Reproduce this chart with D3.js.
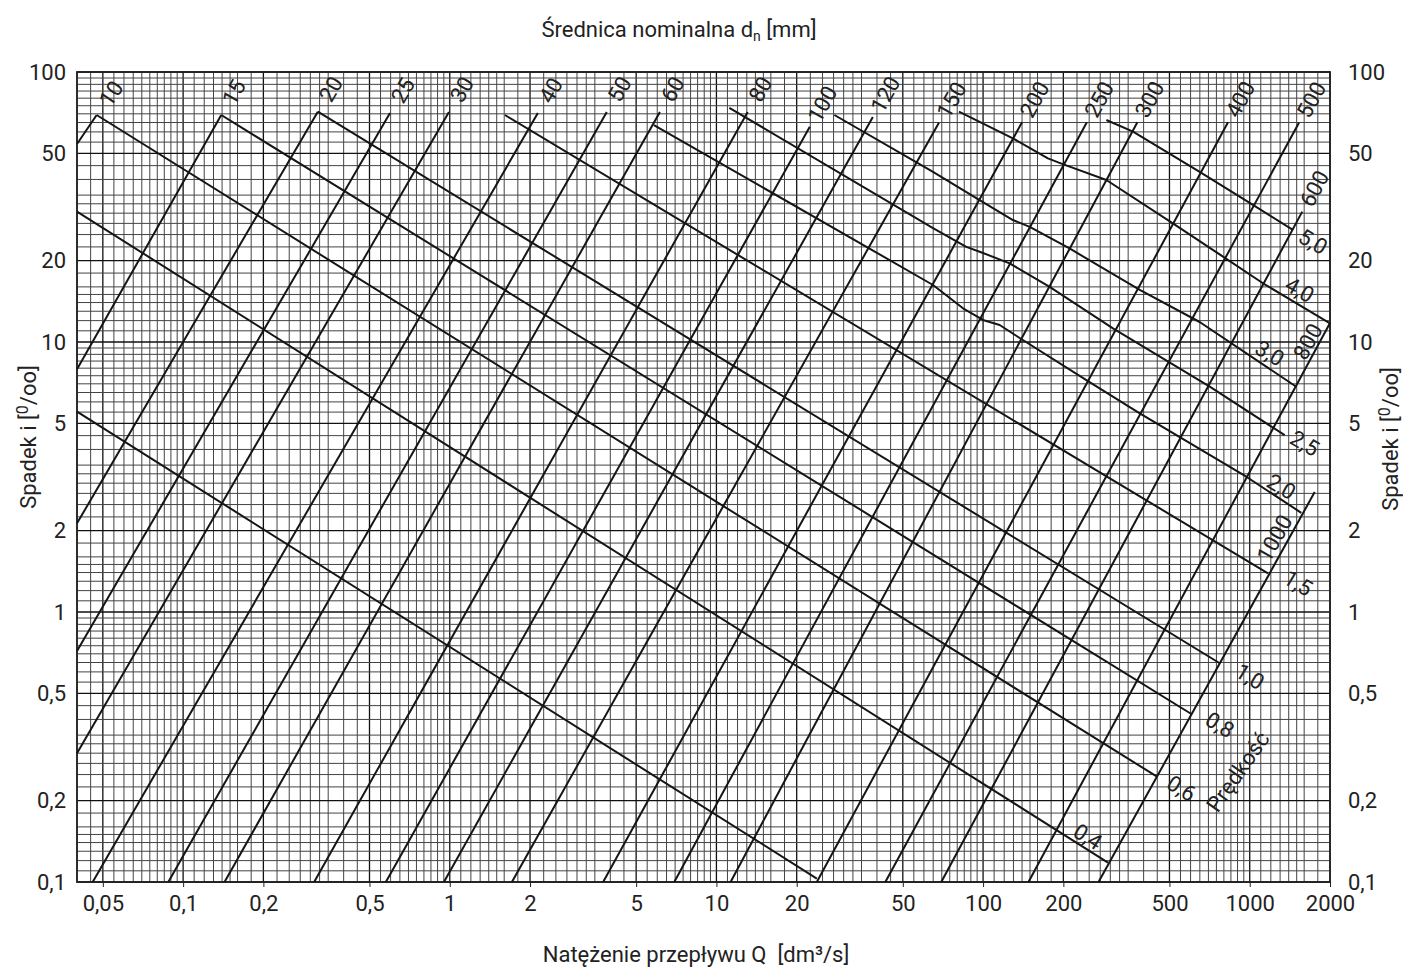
<!DOCTYPE html>
<html>
<head>
<meta charset="utf-8">
<script src="https://cdn.jsdelivr.net/npm/d3@7"></script>
<style>
  body { margin: 0; background: #fff; }
  text { font-family: Roboto, "Liberation Sans", sans-serif; fill: #222; }
</style>
</head>
<body>
<script>
// tick labels of both log axes
var xTicks = [0.05, 0.1, 0.2, 0.5, 1, 2, 5, 10, 20, 50, 100, 200, 500, 1000, 2000];
var yTicks = [0.1, 0.2, 0.5, 1, 2, 5, 10, 20, 50, 100];
// mantissas of the log paper lines inside one decade
var gridSteps = [1, 1.1, 1.2, 1.3, 1.4, 1.5, 1.6, 1.8, 2, 2.25, 2.5, 2.75, 3, 3.25, 3.5,
                 4, 4.5, 5, 5.5, 6, 6.5, 7, 7.5, 8, 8.5, 9, 9.5];

// nominal diameters [mm], each line from its top point to its lower end  [Q dm3/s, i promille]
var diameters = [10, 15, 20, 25, 30, 40, 50, 60, 80, 100, 120, 150, 200, 250, 300, 400, 500, 600, 800, 1000];
var dTop = [[0.0474, 69.3], [0.139, 69.3], [0.320, 71.3], [0.597, 70.5], [0.993, 71.1], [2.14, 70.5],
            [3.88, 71.1], [6.14, 71.1], [13.1, 71.1], [22.4, 62.7], [38.6, 68.1], [68.3, 64.9],
            [140, 65.1], [245, 65.1], [379, 65.1], [829, 65.1], [1530, 64.9], [1574, 30.4],
            [2000, 11.76], [1752, 2.78]];
var dBottom = [[0.04, 54.1], [0.04, 7.92], [0.04, 2.13], [0.04, 0.717], [0.04, 0.30], [0.0458, 0.1],
               [0.088, 0.1], [0.143, 0.1], [0.310, 0.1], [0.576, 0.1], [0.951, 0.1], [1.71, 0.1],
               [3.76, 0.1], [6.95, 0.1], [11.3, 0.1], [23.8, 0.1], [43.0, 0.1], [69.7, 0.1],
               [148, 0.1], [271, 0.1]];
// labels that sit beside the line instead of above its top
var dLabelAt = {800: [1653, 10.03], 1000: [1240, 1.875]};

// velocity lines [m/s]
var velocities = ["", "0,4", "0,6", "0,8", "1,0", "1,5", "2,0", "2,5", "3,0", "4,0", "5,0"];
var vLines = [
  [[0.04, 5.52], [23.8, 0.103]],
  [[0.04, 30.4], [294, 0.118]],
  [[0.0474, 69.3], [449, 0.2455]],
  [[0.139, 69.3], [604, 0.419]],
  [[0.320, 71.3], [772, 0.646]],
  [[1.61, 69.3], [1171, 1.39]],
  [[5.83, 63.6], [64.9, 16.26], [84.1, 13.33], [99.9, 12.07], [115.4, 11.56], [141, 10.17],
   [244, 7.23], [387, 5.44], [971, 3.17], [1561, 2.33]],
  [[11.18, 73.7], [64.9, 26.4], [86.5, 22.5], [97.1, 21.6], [125.8, 19.56], [177.7, 16.0],
   [307, 11.23], [708, 6.83], [1352, 4.52]],
  [[27.7, 69.3], [64.9, 42.7], [95.7, 33.8], [129.4, 28.3], [149.6, 26.7], [211, 22.2],
   [387, 15.6], [649, 11.86], [1495, 6.83]],
  [[81.2, 71.3], [129.4, 56.8], [175, 47.9], [199, 45.6], [290, 39.8], [515, 27.5],
   [794, 20.7], [1121, 16.5], [2000, 11.73]],
  [[290, 66.4], [365, 60.1], [649, 42.7], [1028, 32.2], [1452, 26.0]]
];
var vLabelAt = [null, [247, 0.147], [554, 0.222], [772, 0.3815], [1000, 0.576], [1517, 1.277],
                [1313, 2.91], [1607, 4.21], [1188, 9.08], [1539, 15.58], [1726, 23.5]];
var speedWordAt = [904, 0.256];

// set the dimensions and margins of the graph
var margin = {top: 72, right: 73, bottom: 88, left: 77},
    width = 1403 - margin.left - margin.right,
    height = 970 - margin.top - margin.bottom;

var x = d3.scaleLog().domain([0.04, 2000]).range([0, width]);
var y = d3.scaleLog().domain([0.1, 100]).range([height, 0]);

var root = d3.select("body").append("svg")
    .attr("width", 1403)
    .attr("height", 970);
var svg = root.append("g")
    .attr("transform", "translate(" + margin.left + "," + margin.top + ")");

var comma = function(d) { return String(d).replace(".", ","); };

function gridValues(lo, hi) {
  var out = [];
  for (var e = -3; e <= 4; e++) {
    gridSteps.forEach(function(s) {
      var v = +(s * Math.pow(10, e)).toPrecision(6);
      if (v >= lo && v <= hi) out.push(v);
    });
  }
  return out;
}
function isMajor(v) {
  var m = +(v / Math.pow(10, Math.floor(Math.log10(v) + 1e-9))).toPrecision(4);
  return m === 1 || m === 2 || m === 5;
}

// log paper grid
svg.selectAll(".vgrid")
    .data(gridValues(0.04, 2000))
  .enter().append("line")
    .attr("x1", function(d) { return x(d); })
    .attr("x2", function(d) { return x(d); })
    .attr("y1", 0).attr("y2", height)
    .attr("stroke", function(d) { return isMajor(d) ? "#111" : "#444"; })
    .attr("stroke-width", function(d) { return isMajor(d) ? 1.3 : 1; });
svg.selectAll(".hgrid")
    .data(gridValues(0.1, 100))
  .enter().append("line")
    .attr("y1", function(d) { return y(d); })
    .attr("y2", function(d) { return y(d); })
    .attr("x1", 0).attr("x2", width)
    .attr("stroke", function(d) { return isMajor(d) ? "#111" : "#444"; })
    .attr("stroke-width", function(d) { return isMajor(d) ? 1.3 : 1; });

svg.append("rect")
    .attr("width", width).attr("height", height)
    .attr("fill", "none").attr("stroke", "#222").attr("stroke-width", 1.8);

var line = d3.line()
    .x(function(d) { return x(d[0]); })
    .y(function(d) { return y(d[1]); });

// diameter lines
svg.selectAll(".dline")
    .data(diameters)
  .enter().append("path")
    .attr("d", function(d, k) { return line([dBottom[k], dTop[k]]); })
    .attr("fill", "none").attr("stroke", "#151515").attr("stroke-width", 2);

// velocity lines
svg.selectAll(".vline")
    .data(vLines)
  .enter().append("path")
    .attr("d", line)
    .attr("fill", "none").attr("stroke", "#151515").attr("stroke-width", 2)
    .attr("stroke-linejoin", "round");

// diameter labels, rotated along their line
diameters.forEach(function(d, k) {
  var bx = x(dBottom[k][0]), by = y(dBottom[k][1]),
      tx = x(dTop[k][0]), ty = y(dTop[k][1]);
  var len = Math.hypot(tx - bx, ty - by);
  var ang = Math.atan2(ty - by, tx - bx) * 180 / Math.PI;
  var px, py;
  if (dLabelAt[d]) { px = x(dLabelAt[d][0]); py = y(dLabelAt[d][1]); }
  else { px = tx + (tx - bx) / len * 26; py = ty + (ty - by) / len * 26; }
  svg.append("text")
      .attr("transform", "translate(" + px + "," + py + ") rotate(" + ang + ")")
      .attr("text-anchor", "middle")
      .attr("dominant-baseline", "central")
      .style("font-size", "22px")
      .text(d);
});

// velocity labels
velocities.forEach(function(v, k) {
  if (!v) return;
  var pts = vLines[k], a = pts[0], b = pts[pts.length - 1];
  var ang = Math.atan2(y(b[1]) - y(a[1]), x(b[0]) - x(a[0])) * 180 / Math.PI;
  svg.append("text")
      .attr("transform", "translate(" + x(vLabelAt[k][0]) + "," + y(vLabelAt[k][1]) + ") rotate(" + ang + ")")
      .attr("text-anchor", "middle")
      .attr("dominant-baseline", "central")
      .style("font-size", "22px")
      .text(v);
});
svg.append("text")
    .attr("transform", "translate(" + x(speedWordAt[0]) + "," + y(speedWordAt[1]) + ") rotate(-55)")
    .attr("text-anchor", "middle")
    .attr("dominant-baseline", "central")
    .style("font-size", "22px")
    .text("Prędkość");

// axes
var xAxis = svg.append("g")
    .attr("transform", "translate(0," + height + ")")
    .call(d3.axisBottom(x).tickValues(xTicks).tickFormat(comma).tickSize(5).tickPadding(8));
var yLeft = svg.append("g")
    .call(d3.axisLeft(y).tickValues(yTicks).tickFormat(comma).tickSize(0).tickPadding(11));
var yRight = svg.append("g")
    .attr("transform", "translate(" + width + ",0)")
    .call(d3.axisRight(y).tickValues(yTicks).tickFormat(comma).tickSize(0).tickPadding(18));
[xAxis, yLeft, yRight].forEach(function(g) {
  g.select(".domain").remove();
  g.selectAll("line").attr("stroke", "#222");
  g.selectAll("text")
      .style("font-size", "22px")
      .attr("fill", "#222");
});

// titles
var title = root.append("text")
    .attr("x", 679).attr("y", 37)
    .attr("text-anchor", "middle")
    .style("font-size", "22px");
title.append("tspan").text("Średnica nominalna d");
title.append("tspan").attr("dy", 4).style("font-size", "14px").text("n");
title.append("tspan").attr("dy", -4).text(" [mm]");

root.append("text")
    .attr("x", 696).attr("y", 962)
    .attr("text-anchor", "middle")
    .style("font-size", "22px")
    .text("Natężenie przepływu Q\u00a0\u00a0[dm³/s]");

[[36, 437], [1398, 439]].forEach(function(p) {
  var t = root.append("text")
      .attr("transform", "translate(" + p[0] + "," + p[1] + ") rotate(-90)")
      .attr("text-anchor", "middle")
      .style("font-size", "22px");
  t.append("tspan").text("Spadek i [");
  t.append("tspan").attr("dy", -8).style("font-size", "16px").text("0");
  t.append("tspan").attr("dy", 8).text("/oo]");
});
</script>
</body>
</html>
